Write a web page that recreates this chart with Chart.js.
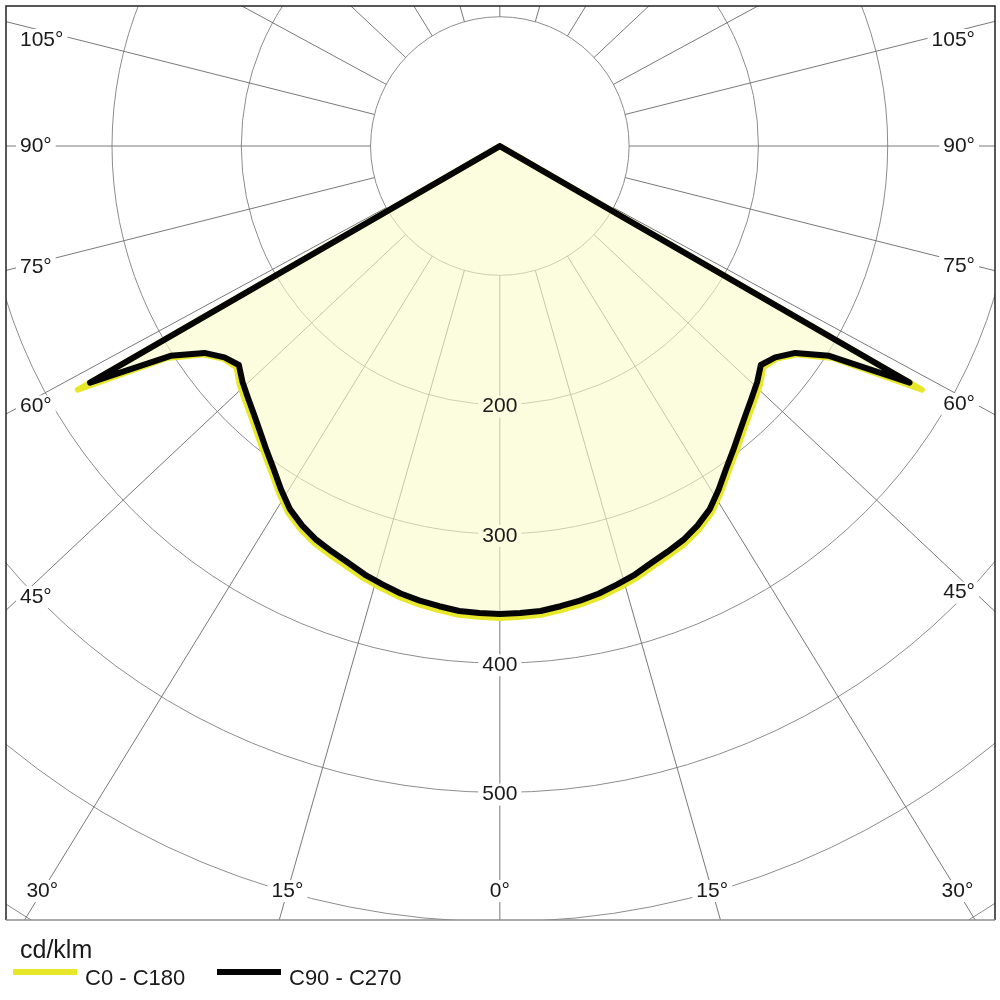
<!DOCTYPE html>
<html>
<head>
<meta charset="utf-8">
<script src="https://cdn.jsdelivr.net/npm/chart.js@4.4.1/dist/chart.umd.min.js"></script>
<style>
  body { margin: 0; background: #fff; }
  #wrap { position: relative; width: 1000px; height: 1000px; }
</style>
</head>
<body>
<div id="wrap"><canvas id="polarChart"></canvas></div>
<script>
// gamma angles (deg from nadir), 2.5 deg steps
const angles = [0, 2.5, 5, 7.5, 10, 12.5, 15, 17.5, 20, 22.5, 25, 27.5, 30, 32.5, 35, 37.5, 40,
                42.5, 45, 47.5, 50, 52.5, 55, 57.5, 60, 62.5, 65, 70, 75, 80, 85, 90];
// cd/klm
const c0c180 = [365, 364.5, 364, 362, 360, 357.5, 354, 350.5, 346, 342.5, 339, 334, 327.5, 318, 308, 299.5, 291.5,
                284.5, 278.5, 273, 266, 270, 281, 305, 377, 0, 0, 0, 0, 0, 0, 0];
const c90c270 = [362, 361.5, 361, 359, 357, 354.5, 351, 347.5, 343, 339.5, 336, 331, 324.5, 315, 305, 296.5, 288.5,
                 281.5, 275.5, 270, 263.5, 268.5, 279, 302, 366, 0, 0, 0, 0, 0, 0, 0];

const ringValues = [100, 200, 300, 400, 500, 600, 700, 800, 900, 1000];
const valueLabels = [200, 300, 400, 500];
const angleTicks = [0, 15, 30, 45, 60, 75, 90, 105];
const spokeAngles = [0, 15, 30, 45, 60, 75, 90, 105, 120, 135, 150, 165, 180];

const xRange = [-382, 383];
const yRange = [-598.6, 108.3];

const FONT = '"Liberation Sans", Arial, sans-serif';
const fillColor = 'rgba(250, 250, 200, 0.6)';
const fillSolid = '#fcfcde';
const spokeSkew = 0.94;

// mirror one C-plane half to both sides of the nadir
function toPoints(values) {
  const pts = [];
  for (let i = angles.length - 1; i >= 0; i--) {
    const a = angles[i] * Math.PI / 180;
    pts.push({ x: -values[i] * Math.sin(a), y: -values[i] * Math.cos(a) });
  }
  for (let i = 1; i < angles.length; i++) {
    const a = angles[i] * Math.PI / 180;
    pts.push({ x: values[i] * Math.sin(a), y: -values[i] * Math.cos(a) });
  }
  return pts;
}

function labelBox(ctx, text, x, y, align, bg) {
  const w = ctx.measureText(text).width;
  let left = x;
  if (align === 'center') left = x - w / 2;
  if (align === 'right') left = x - w;
  ctx.fillStyle = bg;
  ctx.fillRect(left - 4, y - 11, w + 8, 22);
  ctx.fillStyle = '#1a1a1a';
  ctx.textAlign = align;
  ctx.fillText(text, x, y);
}

const polarGrid = {
  id: 'polarGrid',
  beforeDraw(chart) {
    const { ctx, chartArea: a, scales: { x, y } } = chart;
    const cx = x.getPixelForValue(0), cy = y.getPixelForValue(0);
    ctx.save();
    ctx.beginPath();
    ctx.rect(a.left, a.top, a.right - a.left, a.bottom - a.top);
    ctx.clip();

    ctx.strokeStyle = '#8c8c8c';
    ctx.lineWidth = 1;
    ringValues.forEach(v => {
      ctx.beginPath();
      ctx.arc(cx, cy, x.getPixelForValue(v) - cx, 0, Math.PI * 2);
      ctx.stroke();
    });

    const r0 = x.getPixelForValue(ringValues[0]) - cx;
    ctx.strokeStyle = '#6a6a6a';
    ctx.lineWidth = 0.9;
    spokeAngles.forEach(deg => {
      const sides = (deg === 0 || deg === 180) ? [1] : [-1, 1];
      sides.forEach(s => {
        const t = deg * Math.PI / 180;
        let dx = s * Math.sin(t), dy = Math.cos(t) * spokeSkew;
        const n = Math.hypot(dx, dy);
        dx /= n; dy /= n;
        ctx.beginPath();
        ctx.moveTo(cx + dx * r0, cy + dy * r0);
        ctx.lineTo(cx + dx * 2000, cy + dy * 2000);
        ctx.stroke();
      });
    });
    ctx.restore();
  },
  afterDatasetsDraw(chart) {
    const { ctx, chartArea: a, scales: { x, y } } = chart;
    const cx = x.getPixelForValue(0), cy = y.getPixelForValue(0);
    ctx.save();
    ctx.font = '21px ' + FONT;
    ctx.textBaseline = 'middle';

    valueLabels.forEach(v => {
      const bg = v < c90c270[0] ? fillSolid : '#ffffff';
      labelBox(ctx, String(v), cx, y.getPixelForValue(-v) + 2, 'center', bg);
    });

    const leftX = a.left + 14, rightX = a.right - 20, bottomY = a.bottom - 29, topY = a.top + 34;
    angleTicks.forEach(deg => {
      const sides = deg === 0 ? [1] : [-1, 1];
      sides.forEach(s => {
        const t = deg * Math.PI / 180;
        const dx = s * Math.sin(t), dy = Math.cos(t) * spokeSkew;
        const text = deg + '°';
        const edgeX = s < 0 ? leftX : rightX;
        let ly = dx !== 0 ? cy + dy * (edgeX - cx) / dx : Infinity;
        if (ly > bottomY) {
          const lx = cx + dx * (bottomY - cy) / dy;
          labelBox(ctx, text, lx, bottomY, 'center', '#ffffff');
        } else {
          ly = Math.max(ly, topY);
          labelBox(ctx, text, edgeX, ly, s < 0 ? 'left' : 'right', '#ffffff');
        }
      });
    });
    ctx.restore();
  },
  afterDraw(chart) {
    const { ctx, chartArea: a } = chart;
    ctx.save();
    ctx.lineWidth = 1.5;
    ctx.strokeStyle = '#222';
    ctx.beginPath();
    ctx.moveTo(a.left, a.bottom);
    ctx.lineTo(a.left, a.top);
    ctx.lineTo(a.right, a.top);
    ctx.lineTo(a.right, a.bottom);
    ctx.stroke();
    ctx.strokeStyle = '#8c8c8c';
    ctx.beginPath();
    ctx.moveTo(a.left, a.bottom);
    ctx.lineTo(a.right, a.bottom);
    ctx.stroke();

    // legend
    const ds = chart.data.datasets;
    ctx.fillStyle = '#1a1a1a';
    ctx.textBaseline = 'alphabetic';
    ctx.textAlign = 'left';
    ctx.font = '25px ' + FONT;
    ctx.fillText('cd/klm', 20, 958);
    ctx.font = '22px ' + FONT;
    const items = [ds[1], ds[0]];
    items.forEach((d, i) => {
      const x0 = 13 + i * 204;
      ctx.fillStyle = d.borderColor;
      ctx.fillRect(x0, 969, 64, 6);
      ctx.fillStyle = '#1a1a1a';
      ctx.fillText(d.label, x0 + 72, 985);
    });
    ctx.restore();
  }
};

new Chart(document.getElementById('polarChart'), {
  type: 'scatter',
  data: {
    datasets: [
      {
        label: 'C90 - C270',
        data: toPoints(c90c270),
        showLine: true,
        borderColor: '#050505',
        borderWidth: 6,
        borderJoinStyle: 'round',
        borderCapStyle: 'round',
        pointRadius: 0,
        fill: false
      },
      {
        label: 'C0 - C180',
        data: toPoints(c0c180),
        showLine: true,
        borderColor: '#e8e82a',
        backgroundColor: fillColor,
        borderWidth: 6,
        borderJoinStyle: 'round',
        borderCapStyle: 'round',
        pointRadius: 0,
        fill: 'shape'
      }
    ]
  },
  options: {
    responsive: true,
    maintainAspectRatio: false,
    animation: false,
    layout: { padding: { left: 6, top: 6, right: 5, bottom: 80 } },
    plugins: {
      legend: { display: false },
      tooltip: { enabled: false }
    },
    scales: {
      x: { type: 'linear', min: xRange[0], max: xRange[1], display: false },
      y: { type: 'linear', min: yRange[0], max: yRange[1], display: false }
    }
  },
  plugins: [polarGrid]
});
</script>
</body>
</html>
